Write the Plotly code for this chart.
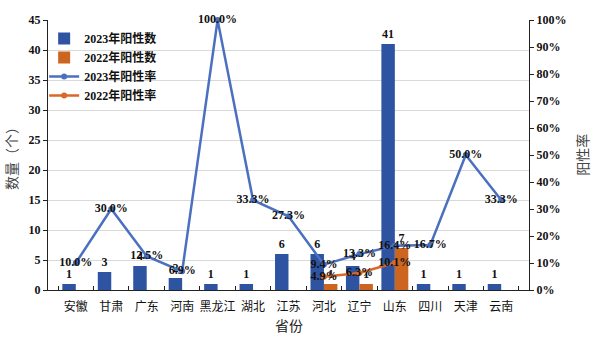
import plotly.graph_objects as go

provinces = ["安徽", "甘肃", "广东", "河南", "黑龙江", "湖北", "江苏", "河北", "辽宁", "山东", "四川", "天津", "云南"]
pos_2023 = [1, 3, 4, 2, 1, 1, 6, 6, 4, 41, 1, 1, 1]
pos_2022 = [None, None, None, None, None, None, None, 1, 1, 7, None, None, None]
rate_2023 = [10.0, 30.0, 12.5, 6.9, 100.0, 33.3, 27.3, 9.4, 13.3, 16.4, 16.7, 50.0, 33.3]
rate_2022 = [None, None, None, None, None, None, None, 4.9, 6.3, 10.1, None, None, None]
left_ticks = [0, 5, 10, 15, 20, 25, 30, 35, 40, 45]
right_ticks = [0, 10, 20, 30, 40, 50, 60, 70, 80, 90, 100]

BAR_BLUE = "#2E54A1"
BAR_ORANGE = "#CC6520"
LINE_BLUE = "#4B70BF"
LINE_ORANGE = "#D8692A"
SERIF = "Liberation Serif, Noto Sans CJK SC, serif"
LABEL_FONT = dict(family=SERIF, size=12, color="#111111", weight="bold")
TICK_FONT = dict(family=SERIF, size=12, color="#111111", weight="bold")
TITLE_FONT = dict(family=SERIF, size=14, color="#444444")

fig = go.Figure()

fig.add_trace(go.Bar(
    x=provinces, y=pos_2023, name="2023年阳性数",
    marker=dict(color=BAR_BLUE, line=dict(width=0)),
    text=[str(v) for v in pos_2023], textposition="outside",
    textfont=LABEL_FONT, cliponaxis=False,
))
fig.add_trace(go.Bar(
    x=provinces, y=pos_2022, name="2022年阳性数",
    marker=dict(color=BAR_ORANGE, line=dict(width=0)),
    text=["" if v is None else str(v) for v in pos_2022], textposition="outside",
    textfont=LABEL_FONT, cliponaxis=False,
))
fig.add_trace(go.Scatter(
    x=provinces, y=rate_2023, name="2023年阳性率", yaxis="y2",
    mode="lines+markers+text",
    line=dict(color=LINE_BLUE, width=2.5),
    marker=dict(color=LINE_BLUE, size=6),
    text=[f"{v:.1f}%" for v in rate_2023], textposition="middle center",
    textfont=LABEL_FONT, cliponaxis=False,
))
fig.add_trace(go.Scatter(
    x=provinces, y=rate_2022, name="2022年阳性率", yaxis="y2",
    mode="lines+markers+text",
    line=dict(color=LINE_ORANGE, width=2.5),
    marker=dict(color=LINE_ORANGE, size=6),
    text=["" if v is None else f"{v:.1f}%" for v in rate_2022], textposition="middle center",
    textfont=LABEL_FONT, cliponaxis=False,
))

# axis titles placed as paper annotations for precise positioning
fig.add_annotation(text="数量（个）", xref="paper", yref="paper", x=-0.075, y=0.5,
                   xanchor="center", yanchor="middle", textangle=-90, showarrow=False, font=TITLE_FONT)
fig.add_annotation(text="阳性率", xref="paper", yref="paper", x=1.112, y=0.5,
                   xanchor="center", yanchor="middle", textangle=-90, showarrow=False, font=TITLE_FONT)
fig.add_annotation(text="省份", xref="paper", yref="paper", x=0.5, y=-0.137,
                   xanchor="center", yanchor="middle", showarrow=False,
                   font=dict(family=SERIF, size=14, color="#222222"))

fig.update_layout(
    width=596, height=338,
    margin=dict(l=48, r=67, t=20, b=48),
    paper_bgcolor="white", plot_bgcolor="white",
    barmode="group", bargap=0.24, bargroupgap=0,
    showlegend=True,
    legend=dict(
        x=-0.008, y=0.985, xanchor="left", yanchor="top",
        bgcolor="rgba(0,0,0,0)", font=dict(family=SERIF, size=12, color="#111111", weight="bold"),
        tracegroupgap=0, itemwidth=30,
    ),
    font=dict(family=SERIF, color="#111111"),
    xaxis=dict(
        tickfont=dict(family=SERIF, size=12, color="#111111"), tickangle=0, automargin=False,
        showline=True, linecolor="#222222", linewidth=1, ticklabelstandoff=6,
        ticks="inside", ticklen=4, tickcolor="#222222", tickson="boundaries",
        showgrid=False,
    ),
    yaxis=dict(
        range=[0, 45], tickvals=left_ticks, automargin=False,
        tickfont=TICK_FONT,
        showline=True, linecolor="#222222", linewidth=1,
        ticks="outside", ticklen=4, tickcolor="#222222",
        showgrid=True, gridcolor="#D9D9D9", gridwidth=1, zeroline=False,
    ),
    yaxis2=dict(
        overlaying="y", side="right", range=[0, 100], tickvals=right_ticks, automargin=False,
        ticktext=[f"{v}%" for v in right_ticks],
        tickfont=TICK_FONT,
        showline=True, linecolor="#222222", linewidth=1,
        ticks="outside", ticklen=4, tickcolor="#222222",
        showgrid=False, zeroline=False,
    ),
)

fig.write_html("out.html")
